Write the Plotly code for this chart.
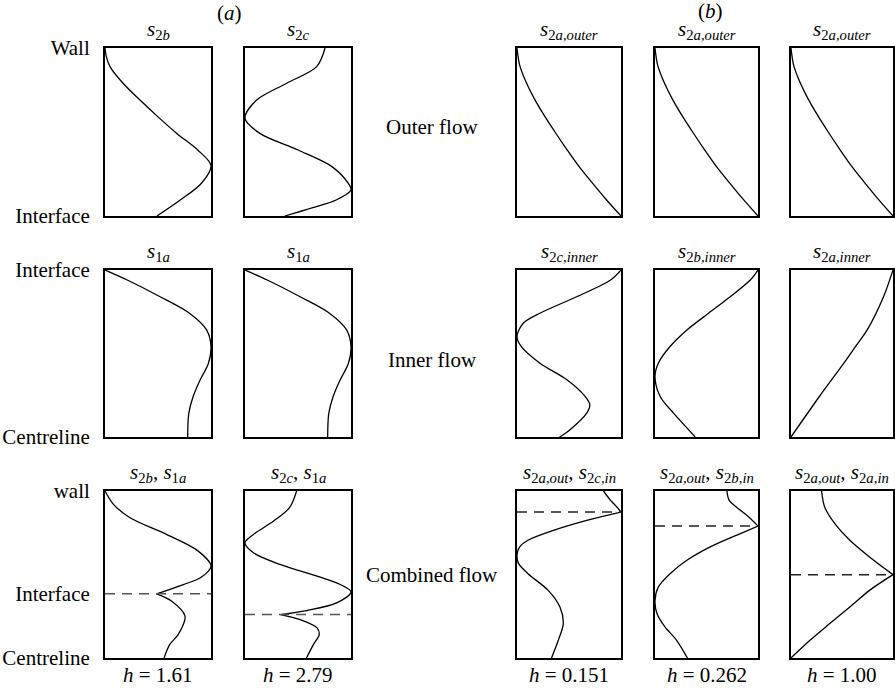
import plotly.graph_objects as go

# Mode shapes: depth runs 0 (bottom of panel) -> 1 (top of panel),
# amplitude runs 0 (left edge) -> 1 (right edge).

# (a) top row: outer-flow modes between wall and interface
depth_s2b = [1.0, 0.95, 0.889, 0.79, 0.69, 0.59, 0.49, 0.39, 0.30, 0.195, 0.095, 0.0]
amp_s2b = [0.0, 0.012, 0.047, 0.17, 0.33, 0.50, 0.68, 0.88, 1.0, 0.91, 0.71, 0.49]

depth_s2c = [1.0, 0.889, 0.79, 0.69, 0.581, 0.492, 0.393, 0.294, 0.194, 0.155, 0.095, 0.05, 0.0]
amp_s2c = [0.755, 0.676, 0.393, 0.11, 0.0, 0.14, 0.50, 0.82, 0.975, 1.0, 0.86, 0.64, 0.377]

# (a) middle row: inner-flow mode between interface and centreline
depth_s1a = [1.0, 0.94, 0.84, 0.74, 0.64, 0.54, 0.44, 0.34, 0.24, 0.14, 0.0]
amp_s1a = [0.0, 0.21, 0.52, 0.80, 0.96, 1.0, 0.975, 0.896, 0.83, 0.79, 0.78]

# (b) top row: outer-flow mode
depth_s2a_outer = [1.0, 0.9, 0.8, 0.7, 0.6, 0.5, 0.4, 0.3, 0.2, 0.1, 0.0]
amp_s2a_outer = [0.0, 0.025, 0.085, 0.165, 0.26, 0.365, 0.475, 0.59, 0.72, 0.855, 1.0]

# (b) middle row: inner-flow modes
depth_s2c_inner = [1.0, 0.94, 0.84, 0.741, 0.681, 0.602, 0.542, 0.442, 0.343, 0.243, 0.193, 0.143, 0.044, 0.0]
amp_s2c_inner = [1.0, 0.90, 0.574, 0.22, 0.06, 0.0, 0.04, 0.22, 0.48, 0.655, 0.70, 0.67, 0.51, 0.41]

depth_s2b_inner = [1.0, 0.94, 0.84, 0.741, 0.641, 0.542, 0.442, 0.363, 0.243, 0.143, 0.044, 0.0]
amp_s2b_inner = [1.0, 0.925, 0.73, 0.52, 0.31, 0.146, 0.032, 0.0, 0.05, 0.18, 0.325, 0.39]

depth_s2a_inner = [1.0, 0.844, 0.644, 0.544, 0.444, 0.244, 0.0]
amp_s2a_inner = [1.0, 0.91, 0.75, 0.635, 0.52, 0.28, 0.0]

# bottom row: combined profiles (outer mode above the interface, inner mode below)
depth_comb_161 = [1.0, 0.92, 0.84, 0.74, 0.64, 0.55, 0.48, 0.44, 0.384,
                  0.34, 0.25, 0.14, 0.08, 0.0]
amp_comb_161 = [0.0, 0.08, 0.236, 0.58, 0.88, 1.0, 0.90, 0.74, 0.487,
                0.63, 0.755, 0.69, 0.61, 0.557]

depth_comb_279 = [1.0, 0.90, 0.82, 0.74, 0.69, 0.63, 0.56, 0.49, 0.44, 0.396, 0.33, 0.284, 0.26,
                  0.23, 0.18, 0.14, 0.08, 0.0]
amp_comb_279 = [0.487, 0.42, 0.27, 0.08, 0.0, 0.08, 0.33, 0.68, 0.90, 1.0, 0.865, 0.58, 0.336,
                0.52, 0.68, 0.70, 0.645, 0.58]

depth_comb_0151 = [1.0, 0.944, 0.904, 0.874, 0.824, 0.764, 0.705, 0.665, 0.615, 0.565, 0.505,
                   0.405, 0.305, 0.206, 0.106, 0.0]
amp_comb_0151 = [0.832, 0.90, 0.96, 1.0, 0.67, 0.35, 0.106, 0.026, 0.0, 0.016, 0.106,
                 0.30, 0.413, 0.445, 0.397, 0.332]

depth_comb_0262 = [1.0, 0.944, 0.904, 0.844, 0.790, 0.745, 0.665, 0.585, 0.505, 0.425, 0.345,
                   0.265, 0.186, 0.106, 0.0]
amp_comb_0262 = [0.698, 0.72, 0.79, 0.91, 1.0, 0.83, 0.536, 0.31, 0.146, 0.032, 0.0,
                 0.02, 0.097, 0.21, 0.315]

depth_comb_100 = [1.0, 0.904, 0.804, 0.705, 0.605, 0.499, 0.405, 0.305, 0.206, 0.106, 0.0]
amp_comb_100 = [0.30, 0.33, 0.43, 0.577, 0.77, 1.0, 0.77, 0.577, 0.38, 0.186, 0.0]

# interface positions in the combined panels
interface_levels = [0.384, 0.26, 0.874, 0.790, 0.499]
h_values = ["1.61", "2.79", "0.151", "0.262", "1.00"]

panel_titles = [
    ["<i>s</i><sub>2<i>b</i></sub>", "<i>s</i><sub>2<i>c</i></sub>",
     "<i>s</i><sub>2<i>a,outer</i></sub>", "<i>s</i><sub>2<i>a,outer</i></sub>",
     "<i>s</i><sub>2<i>a,outer</i></sub>"],
    ["<i>s</i><sub>1<i>a</i></sub>", "<i>s</i><sub>1<i>a</i></sub>",
     "<i>s</i><sub>2<i>c,inner</i></sub>", "<i>s</i><sub>2<i>b,inner</i></sub>",
     "<i>s</i><sub>2<i>a,inner</i></sub>"],
    ["<i>s</i><sub>2<i>b</i></sub>, <i>s</i><sub>1<i>a</i></sub>",
     "<i>s</i><sub>2<i>c</i></sub>, <i>s</i><sub>1<i>a</i></sub>",
     "<i>s</i><sub>2<i>a,out</i></sub>, <i>s</i><sub>2<i>c,in</i></sub>",
     "<i>s</i><sub>2<i>a,out</i></sub>, <i>s</i><sub>2<i>b,in</i></sub>",
     "<i>s</i><sub>2<i>a,out</i></sub>, <i>s</i><sub>2<i>a,in</i></sub>"],
]
row_names = ["Outer flow", "Inner flow", "Combined flow"]

curves = [
    [(depth_s2b, amp_s2b), (depth_s2c, amp_s2c),
     (depth_s2a_outer, amp_s2a_outer), (depth_s2a_outer, amp_s2a_outer),
     (depth_s2a_outer, amp_s2a_outer)],
    [(depth_s1a, amp_s1a), (depth_s1a, amp_s1a),
     (depth_s2c_inner, amp_s2c_inner), (depth_s2b_inner, amp_s2b_inner),
     (depth_s2a_inner, amp_s2a_inner)],
    [(depth_comb_161, amp_comb_161), (depth_comb_279, amp_comb_279),
     (depth_comb_0151, amp_comb_0151), (depth_comb_0262, amp_comb_0262),
     (depth_comb_100, amp_comb_100)],
]

# ---- page geometry (pixels) ----
W, H = 895, 688
col_px = [(105, 211), (245, 351), (517, 621), (655, 758), (791, 893)]
row_px = [(48, 216), (270, 437), (491, 658)]

FONT = "Liberation Serif, Times New Roman, serif"
FS = 21
LINE = dict(color="black", width=1.3)


def px_x(v):
    return v / W


def px_y(v):
    return 1 - v / H


fig = go.Figure()
layout_axes = {}
annotations = []

idx = 0
for r in range(3):
    for c in range(5):
        idx += 1
        xa = "x" if idx == 1 else f"x{idx}"
        ya = "y" if idx == 1 else f"y{idx}"
        x0, x1 = col_px[c]
        y0, y1 = row_px[r]
        depth, amp = curves[r][c]

        if r == 2:
            lvl = interface_levels[c]
            upper = [(d, a) for d, a in zip(depth, amp) if d >= lvl]
            lower = [(d, a) for d, a in zip(depth, amp) if d <= lvl]
            for seg in (upper, lower):
                fig.add_trace(go.Scatter(
                    x=[a for _, a in seg], y=[d for d, _ in seg], mode="lines",
                    line=dict(shape="spline", smoothing=0.9, **LINE),
                    xaxis=xa, yaxis=ya, showlegend=False, hoverinfo="skip"))
            dash_col = "#555555" if c < 2 else "#222222"
            fig.add_trace(go.Scatter(
                x=[0, 1], y=[lvl, lvl], mode="lines",
                line=dict(color=dash_col, width=1.5, dash="10px,7px"),
                xaxis=xa, yaxis=ya, showlegend=False, hoverinfo="skip"))
        else:
            fig.add_trace(go.Scatter(
                x=amp, y=depth, mode="lines",
                line=dict(shape="spline", smoothing=0.9, **LINE),
                xaxis=xa, yaxis=ya, showlegend=False, hoverinfo="skip"))

        common = dict(range=[0, 1], showgrid=False, zeroline=False, showline=True,
                      mirror=True, linecolor="black", linewidth=2, fixedrange=True,
                      automargin=False)
        layout_axes["xaxis" if idx == 1 else f"xaxis{idx}"] = dict(
            domain=[px_x(x0), px_x(x1)], anchor=ya, showticklabels=False,
            ticks="", **common)
        yax = dict(domain=[px_y(y1), px_y(y0)], anchor=xa, ticks="", **common)
        if c == 0:
            if r == 0:
                tv, tt = [0, 1], ["Interface", "Wall"]
            elif r == 1:
                tv, tt = [0, 1], ["Centreline", "Interface"]
            else:
                tv, tt = [0, interface_levels[0], 1], ["Centreline", "Interface", "wall"]
            yax.update(showticklabels=True, tickvals=tv, ticktext=tt,
                       tickfont=dict(family=FONT, size=FS, color="black"),
                       ticklabelstandoff=9)
        else:
            yax.update(showticklabels=False)
        layout_axes["yaxis" if idx == 1 else f"yaxis{idx}"] = yax

        annotations.append(dict(
            text=panel_titles[r][c], xref="paper", yref="paper",
            x=px_x((x0 + x1) / 2), y=px_y(y0 - 3), xanchor="center", yanchor="bottom",
            showarrow=False, font=dict(family=FONT, size=FS, color="black")))
        if r == 2:
            annotations.append(dict(
                text=f"<i>h</i> = {h_values[c]}", xref="paper", yref="paper",
                x=px_x((x0 + x1) / 2), y=px_y(y1 + 3), xanchor="center", yanchor="top",
                showarrow=False, font=dict(family=FONT, size=FS, color="black")))

# row names between the two groups
for name, ypix in zip(row_names, [127, 360, 575]):
    annotations.append(dict(
        text=name, xref="paper", yref="paper", x=px_x(432), y=px_y(ypix),
        xanchor="center", yanchor="middle", showarrow=False,
        font=dict(family=FONT, size=FS, color="black")))

# group labels
for lab, xpix, ypix in [("(<i>a</i>)", 229, 13), ("(<i>b</i>)", 710, 11)]:
    annotations.append(dict(
        text=lab, xref="paper", yref="paper", x=px_x(xpix), y=px_y(ypix),
        xanchor="center", yanchor="middle", showarrow=False,
        font=dict(family=FONT, size=FS, color="black")))

fig.update_layout(
    width=W, height=H, margin=dict(l=0, r=0, t=0, b=0, autoexpand=False),
    paper_bgcolor="white", plot_bgcolor="white",
    annotations=annotations, **layout_axes)

fig.write_html("out.html")
